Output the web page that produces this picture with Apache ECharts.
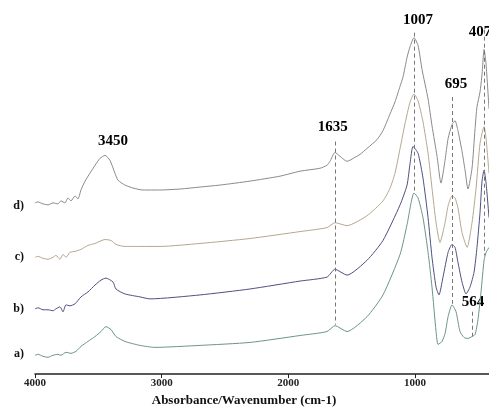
<!DOCTYPE html>
<html>
<head>
<meta charset="utf-8">
<script src="https://cdn.jsdelivr.net/npm/echarts@6/dist/echarts.min.js"></script>
<style>html,body{margin:0;padding:0;background:#fff}#c{width:489px;height:412px}</style>
</head>
<body>
<div id="c"></div>
<script>
// Wavenumber (cm-1) vs absorbance (arbitrary, stacked offsets)
const xTicks = [4000, 3000, 2000, 1000];
const curveLetters = ['a)', 'b)', 'c)', 'd)'];
const curveLetterLevels = [0.20, 0.66, 1.18, 1.70];

const curveD = [[4000,1.73],[3976,1.74],[3937,1.72],[3897,1.71],[3858,1.73],[3819,1.72],[3795,1.75],[3763,1.73],[3740,1.78],[3716,1.75],[3684,1.80],[3661,1.77],[3637,1.86],[3605,1.95],[3566,2.03],[3526,2.11],[3487,2.18],[3447,2.21],[3408,2.16],[3369,2.03],[3345,1.96],[3290,1.91],[3226,1.88],[3147,1.86],[3013,1.86],[2855,1.87],[2697,1.89],[2540,1.91],[2303,1.95],[2066,2.00],[1908,2.05],[1750,2.08],[1695,2.11],[1671,2.15],[1632,2.24],[1592,2.20],[1537,2.15],[1474,2.19],[1434,2.22],[1379,2.28],[1300,2.37],[1253,2.46],[1197,2.63],[1158,2.75],[1118,2.91],[1095,3.00],[1063,3.20],[1039,3.31],[1008,3.40],[976,3.32],[945,3.08],[897,2.78],[866,2.51],[826,2.20],[795,1.93],[763,2.16],[739,2.38],[708,2.52],[684,2.56],[661,2.46],[629,2.25],[605,2.06],[582,1.87],[550,2.08],[526,2.48],[511,2.70],[487,2.85],[471,3.03],[455,3.28],[439,3.13],[416,2.68]];

const curveC = [[4000,1.18],[3976,1.19],[3937,1.17],[3897,1.16],[3858,1.18],[3834,1.20],[3803,1.16],[3779,1.21],[3755,1.18],[3724,1.23],[3684,1.24],[3637,1.26],[3582,1.30],[3526,1.32],[3447,1.36],[3400,1.35],[3361,1.31],[3290,1.29],[3171,1.29],[3013,1.29],[2697,1.32],[2303,1.37],[1908,1.44],[1695,1.48],[1632,1.53],[1537,1.50],[1379,1.60],[1253,1.75],[1197,1.88],[1158,2.03],[1118,2.28],[1079,2.53],[1039,2.75],[1008,2.83],[976,2.76],[937,2.55],[897,2.23],[866,1.88],[834,1.53],[803,1.33],[763,1.53],[739,1.70],[708,1.80],[684,1.78],[661,1.68],[629,1.43],[589,1.28],[550,1.53],[518,1.88],[487,2.33],[455,2.50],[439,2.38],[416,2.03]];

const curveB = [[4000,0.66],[3976,0.67],[3937,0.65],[3897,0.65],[3858,0.64],[3834,0.66],[3803,0.68],[3779,0.63],[3755,0.70],[3724,0.69],[3684,0.71],[3637,0.78],[3582,0.83],[3526,0.90],[3479,0.95],[3440,0.97],[3384,0.93],[3361,0.86],[3290,0.81],[3171,0.78],[3092,0.76],[2697,0.80],[2303,0.86],[1908,0.94],[1695,0.98],[1632,1.06],[1537,1.00],[1379,1.15],[1253,1.35],[1118,1.71],[1063,1.91],[1039,2.13],[1016,2.30],[976,2.23],[937,1.98],[897,1.58],[866,1.18],[834,0.88],[811,0.80],[779,0.98],[739,1.23],[708,1.31],[684,1.28],[661,1.13],[629,0.93],[597,0.81],[566,0.88],[534,1.03],[511,1.28],[487,1.63],[471,1.95],[455,2.06],[439,1.93],[416,1.58]];

const curveA = [[4000,0.19],[3976,0.20],[3937,0.18],[3897,0.17],[3858,0.19],[3819,0.20],[3795,0.19],[3755,0.22],[3716,0.21],[3676,0.23],[3637,0.28],[3582,0.33],[3526,0.38],[3479,0.43],[3440,0.48],[3400,0.45],[3361,0.38],[3290,0.33],[3171,0.29],[3053,0.27],[2697,0.29],[2303,0.32],[1908,0.39],[1695,0.43],[1632,0.49],[1537,0.43],[1379,0.58],[1253,0.80],[1118,1.21],[1063,1.51],[1008,1.83],[976,1.78],[937,1.58],[897,1.23],[866,0.88],[834,0.43],[818,0.30],[787,0.33],[763,0.41],[739,0.58],[708,0.70],[676,0.63],[645,0.43],[613,0.37],[582,0.36],[550,0.38],[526,0.40],[503,0.55],[479,0.83],[455,1.15],[439,1.23],[416,1.28]];

// Peak annotations: [wavenumber, label level, text]
const peakLabels = [[3384,2.35,'3450'],[1650,2.50,'1635'],[977,3.58,'1007'],[676,2.93,'695'],[487,3.46,'407'],[542,0.73,'564']];
// Dashed guide lines: [wavenumber, top level, bottom level]
const guideLines = [[1632,2.35,0.50],[1008,3.45,1.83],[708,2.80,0.71],[455,3.48,1.20],[550,0.63,0.38]];

const serifBold = {fontFamily:'Liberation Serif', fontWeight:'bold', color:'#111'};

const chart = echarts.init(document.getElementById('c'), null, {renderer:'canvas'});
chart.setOption({
  animation:false,
  backgroundColor:'#fff',
  grid:{left:35, right:0, top:0, bottom:34, containLabel:false},
  xAxis:{
    type:'value', inverse:true, min:416, max:4000,
    axisLine:{show:true, lineStyle:{color:'#222', width:1.5}},
    axisTick:{show:true, length:4, customValues:xTicks, lineStyle:{color:'#222'}},
    axisLabel:{customValues:xTicks, margin:4, fontSize:11, ...serifBold, color:'#222', formatter:v=>String(v)},
    splitLine:{show:false},
    name:'Absorbance/Wavenumber (cm-1)', nameLocation:'middle', nameGap:19,
    nameTextStyle:{fontSize:13, ...serifBold, padding:[0,36,0,0]}
  },
  yAxis:{
    type:'value', min:0, max:3.78,
    axisLine:{show:false}, axisTick:{show:false}, splitLine:{show:false},
    axisLabel:{customValues:curveLetterLevels, margin:11, fontSize:12, ...serifBold,
      formatter:v=>{const i=curveLetterLevels.findIndex(l=>Math.abs(l-v)<1e-6);return i>=0?curveLetters[i]:'';}}
  },
  series:[
    {type:'line', data:curveA, symbol:'none', smooth:0.2, lineStyle:{color:'#6d9486', width:1}},
    {type:'line', data:curveB, symbol:'none', smooth:0.2, lineStyle:{color:'#4f4f80', width:1}},
    {type:'line', data:curveC, symbol:'none', smooth:0.2, lineStyle:{color:'#b5a78e', width:1}},
    {type:'line', data:curveD, symbol:'none', smooth:0.2, lineStyle:{color:'#8a8a8a', width:1},
      markLine:{silent:true, symbol:'none', label:{show:false},
        lineStyle:{type:[4,3], color:'#777', width:1},
        data:guideLines.map(g=>[{coord:[g[0],g[1]]},{coord:[g[0],g[2]]}])}},
    {type:'scatter', data:peakLabels, symbolSize:0, silent:true,
      label:{show:true, position:'inside', formatter:p=>p.data[2], fontSize:15,
        fontFamily:'Liberation Serif', fontWeight:'bold', color:'#000', textBorderWidth:0, opacity:1}}
  ]
});
</script>
</body>
</html>
